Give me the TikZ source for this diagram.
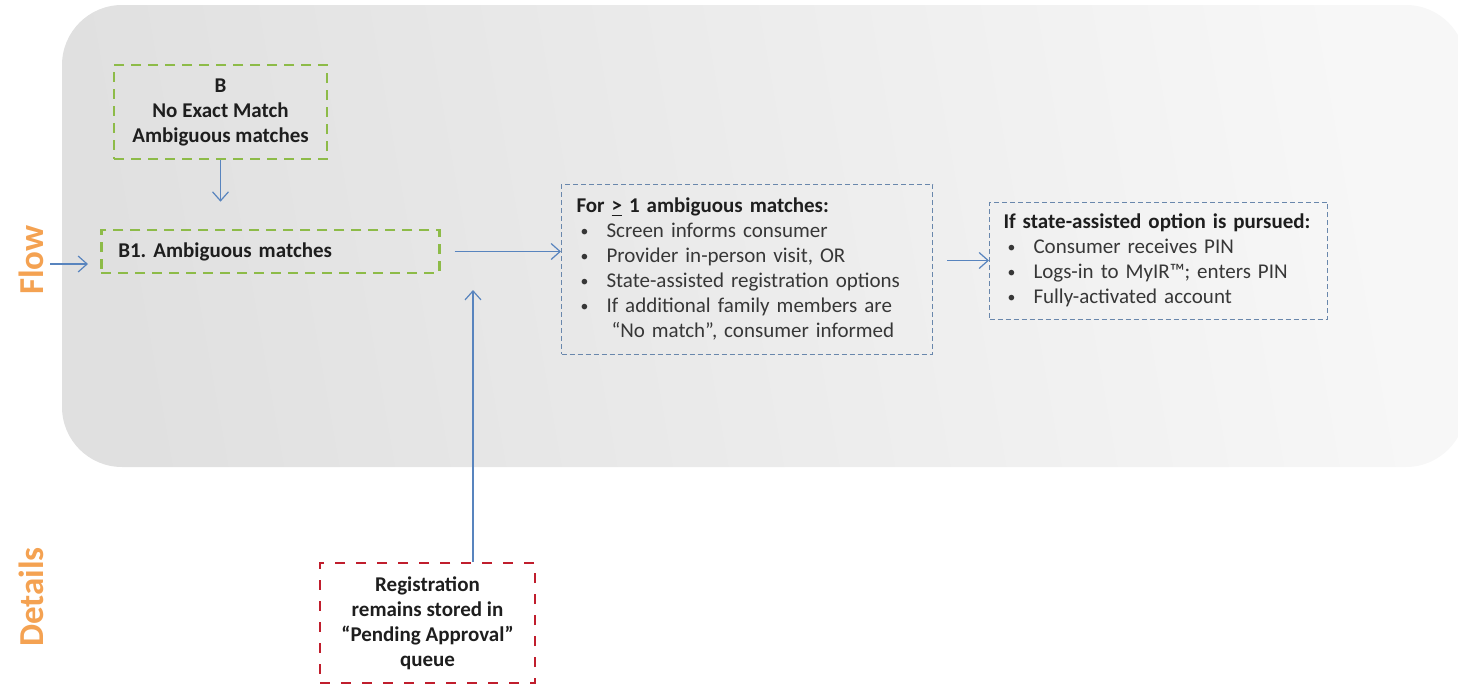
\documentclass[tikz,border=0pt]{standalone}
\usepackage{fontspec}
\setmainfont{Carlito}
\usetikzlibrary{arrows.meta}
\frenchspacing
\definecolor{flowgreen}{RGB}{141,187,72}
\definecolor{boxblue}{RGB}{105,135,172}
\definecolor{linkblue}{RGB}{88,132,190}
\definecolor{holdred}{RGB}{192,30,45}
\definecolor{laneorange}{RGB}{244,162,82}
\definecolor{ink}{RGB}{30,30,30}
\definecolor{softink}{RGB}{55,55,55}
\newcommand\bitem[1]{\hspace*{2pt}\makebox[13pt][l]{\raisebox{0.6pt}{\scalebox{0.75}{\textbullet}}}#1}
\tikzset{
  panel/.style={left color=black!12, right color=black!3, shading angle=100},
  boxtext/.style={font=\fontsize{10.5}{12.5}\selectfont, text=ink},
  greenbox/.style={boxtext, draw=flowgreen, line width=1.3pt,
    dash pattern=on 5pt off 3.5pt, font=\bfseries\fontsize{10.5}{12.5}\selectfont},
  bluebox/.style={boxtext, draw=boxblue, line width=0.5pt,
    dash pattern=on 2.5pt off 1.5pt, text=softink},
  redbox/.style={boxtext, draw=holdred, line width=1.4pt,
    dash pattern=on 5pt off 5.5pt, font=\bfseries\fontsize{10.5}{12.5}\selectfont},
  link/.style={draw=linkblue, line width=0.6pt,
    -{Straight Barb[length=4.5pt,width=8pt]}},
  lane/.style={text=laneorange, font=\bfseries\fontsize{17.5}{20}\selectfont, rotate=90}
}
\begin{document}
\begin{tikzpicture}[x=0.5pt,y=-0.5pt]
\useasboundingbox (0,0) rectangle (1458,686);

% background panel of the flow lane
\shade[panel, rounded corners=30pt] (62,5) rectangle (1466,467);

% lane titles
\node[lane] (flowlbl) at (31,260) {Flow};
\node[lane] (detlbl) at (31,597) {Details};

% flow boxes
\node[greenbox, align=center, minimum width=106.5pt, minimum height=47pt, inner sep=0pt]
  (B) at (220.5,112) {B\\No Exact Match\\Ambiguous matches};

\node[greenbox, anchor=west, align=left, text width=152pt, inner xsep=8.5pt,
  minimum height=21.5pt, inner ysep=0pt]
  (B1) at (100,251.5) {B1. Ambiguous matches};

\node[bluebox, anchor=west, align=left, text width=170.5pt, inner xsep=7.5pt,
  minimum height=85pt, inner ysep=0pt]
  (C) at (561,269) {%
  \textbf{\color{ink}For \underline{>} 1 ambiguous matches:}\\
  \bitem{Screen informs consumer}\\
  \bitem{Provider in-person visit, OR}\\
  \bitem{State-assisted registration options}\\
  \bitem{If additional family members are}\\
  \hspace*{17.5pt}“No match”, consumer informed};

\node[bluebox, anchor=west, align=left, text width=155pt, inner xsep=7pt,
  minimum height=58.5pt, inner ysep=0pt]
  (D) at (989,260.5) {%
  \textbf{\color{ink}If state-assisted option is pursued:}\\
  \bitem{Consumer receives PIN}\\
  \bitem{Logs-in to MyIR™; enters PIN}\\
  \bitem{Fully-activated account}};

% details box
\node[redbox, align=center, minimum width=107.5pt, minimum height=60pt, inner sep=0pt]
  (R) at (427.5,623) {Registration\\remains stored in\\“Pending Approval”\\queue};

% connectors
\coordinate (entry) at (50,264);
\coordinate (uptip) at (473,290);
\draw[link, shorten >=6pt] (entry) -- (B1.west |- entry);
\draw[link, shorten >=13.5pt] (B.south) -- (B.south |- B1.north);
\draw[link, shorten <=7pt] (B1.east) -- (C.west |- B1.east);
\draw[link, shorten <=7pt] (C.east |- D.west) -- (D.west);
\draw[link] (R.north -| uptip) -- (uptip);
\end{tikzpicture}
\end{document}
